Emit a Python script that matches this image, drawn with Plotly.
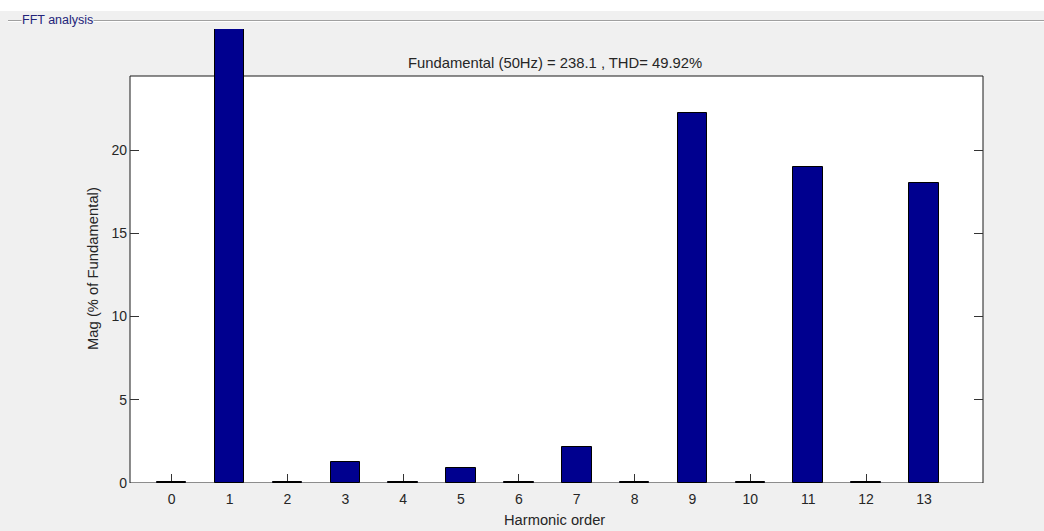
import plotly.graph_objects as go

# Harmonic spectrum (% of fundamental)
harmonics = [0, 1, 2, 3, 4, 5, 6, 7, 8, 9, 10, 11, 12, 13]
magnitude = [0.06, 100.0, 0.06, 1.28, 0.06, 0.88, 0.06, 2.18, 0.06, 22.2, 0.06, 19.0, 0.06, 18.0]
y_ticks = [0, 5, 10, 15, 20]

title_text = "Fundamental (50Hz) = 238.1 , THD= 49.92%"
x_title = "Harmonic order"
y_title = "Mag (% of Fundamental)"
panel_title = "FFT analysis"

W, H = 1044, 531
ML, MR, MT, MB = 130, 61, 29, 48
PW = W - ML - MR
PH = H - MT - MB
PX_PER_UNIT = 16.65
Y_TOP = PH / PX_PER_UNIT          # axis range shown by bars (clip top of panel)
AX_TOP = (483 - 76) / PX_PER_UNIT  # top of the white axes box
X_RANGE = [-0.72, 14.02]

FONT = "Liberation Sans, Arial, sans-serif"
GREY = "#f0f0f0"
TXT = "#262626"


def px(xp):
    return (xp - ML) / PW


def py(yp):
    return (H - MB - yp) / PH


fig = go.Figure()
fig.add_trace(go.Bar(
    x=harmonics, y=magnitude, width=0.51,
    marker=dict(color="#00008f", line=dict(color="#000000", width=1)),
    hoverinfo="x+y",
))

shapes = [
    # white strip above the panel
    dict(type="rect", xref="paper", yref="paper", x0=px(0), x1=px(W), y0=py(11), y1=py(-2),
         fillcolor="#ffffff", line=dict(width=0), layer="below"),
    # etched panel border
    dict(type="line", xref="paper", yref="paper", x0=px(8), x1=px(W), y0=py(20.5), y1=py(20.5),
         line=dict(color="#a0a0a0", width=1)),
    dict(type="line", xref="paper", yref="paper", x0=px(8), x1=px(W), y0=py(21.5), y1=py(21.5),
         line=dict(color="#ffffff", width=1)),
    # axes box
    dict(type="rect", xref="x domain", yref="y", x0=0, x1=1, y0=0, y1=AX_TOP,
         fillcolor="#ffffff", line=dict(width=0), layer="below"),
    dict(type="rect", xref="x domain", yref="y", x0=0, x1=1, y0=0, y1=AX_TOP,
         fillcolor="rgba(0,0,0,0)", line=dict(color="#1a1a1a", width=1), layer="below"),
]

annotations = [
    dict(text=panel_title, xref="paper", yref="paper", x=px(21), y=py(20.5),
         xanchor="left", yanchor="middle", showarrow=False, bgcolor=GREY, borderpad=0,
         font=dict(family=FONT, size=12.5, color="#24247a")),
    dict(text=title_text, xref="paper", yref="paper", x=px(555), y=py(63),
         xanchor="center", yanchor="middle", showarrow=False,
         font=dict(family=FONT, size=14.8, color=TXT)),
    dict(text=x_title, xref="paper", yref="paper", x=px(554.5), y=py(520),
         xanchor="center", yanchor="middle", showarrow=False,
         font=dict(family=FONT, size=14.7, color=TXT)),
    dict(text=y_title, xref="paper", yref="paper", x=px(93), y=py(269), textangle=-90,
         xanchor="center", yanchor="middle", showarrow=False,
         font=dict(family=FONT, size=14.8, color=TXT)),
]

fig.update_layout(
    width=W, height=H, autosize=False,
    margin=dict(l=ML, r=MR, t=MT, b=MB, pad=0),
    paper_bgcolor=GREY, plot_bgcolor="rgba(0,0,0,0)",
    showlegend=False, bargap=0,
    font=dict(family=FONT, size=14, color=TXT),
    shapes=shapes, annotations=annotations,
    xaxis=dict(range=X_RANGE, tickvals=harmonics, ticktext=[str(h) for h in harmonics],
               ticks="inside", ticklen=9, tickwidth=1, tickcolor="#333333",
               showgrid=False, zeroline=False, showline=False, layer="below traces",
               ticklabelstandoff=6, tickfont=dict(family=FONT, size=14, color=TXT)),
    xaxis2=dict(range=X_RANGE, tickvals=harmonics, overlaying="x", matches="x", side="top",
                anchor="free", position=py(76), ticks="inside", ticklen=9, tickwidth=1,
                tickcolor="#333333", showticklabels=False, showgrid=False, zeroline=False,
                showline=False, layer="below traces"),
    yaxis=dict(range=[0, Y_TOP], tickvals=y_ticks, ticks="inside", ticklen=9, tickwidth=1,
               tickcolor="#333333", mirror="ticks", showgrid=False, zeroline=False,
               showline=False, layer="below traces", ticklabelstandoff=2,
               tickfont=dict(family=FONT, size=14, color=TXT)),
)

fig.write_html("out.html")
